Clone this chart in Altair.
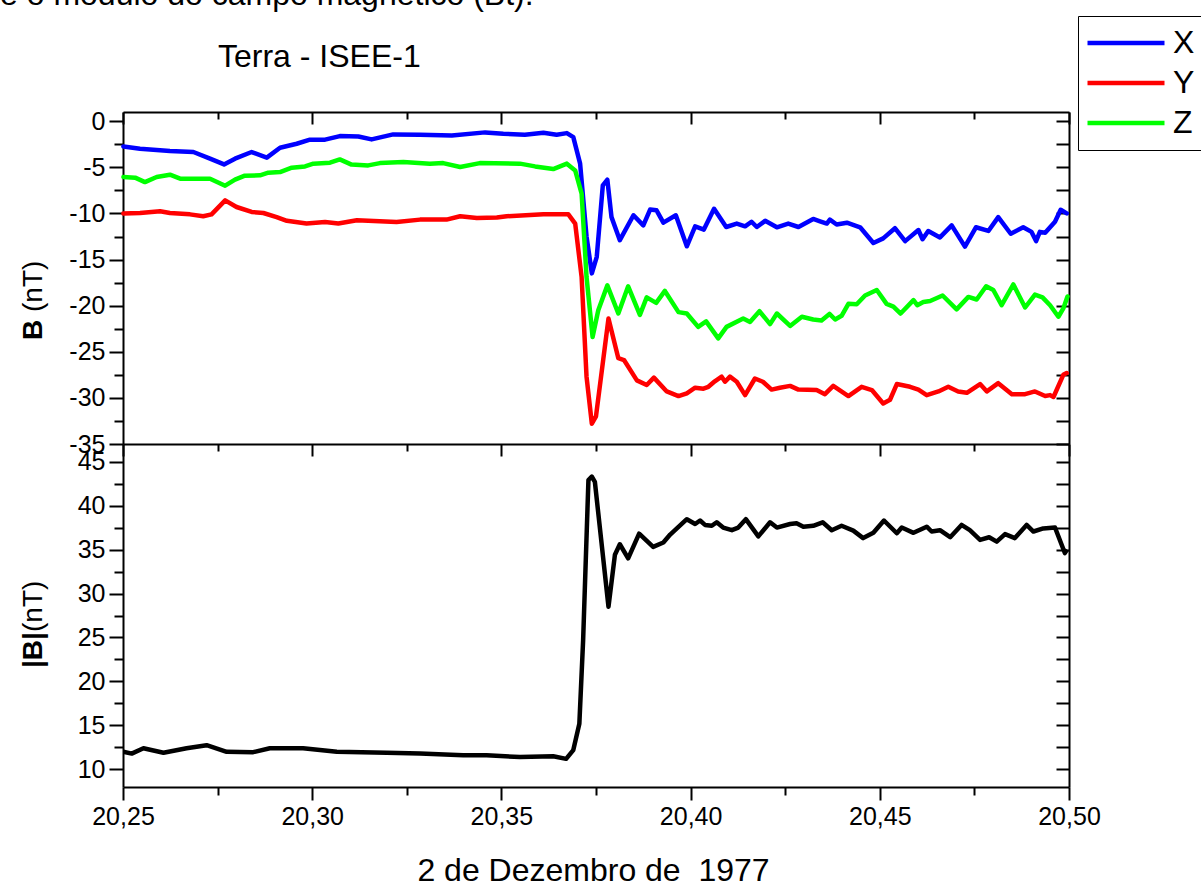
import altair as alt
import pandas as pd

# ---------------- data ----------------
# X component (blue)
X_t = [20.2501, 20.2545, 20.2624, 20.2686, 20.2730, 20.2767, 20.2796, 20.2840, 20.2880, 20.2915,
       20.2959, 20.2994, 20.3034, 20.3073, 20.3122, 20.3157, 20.3214, 20.3285, 20.3369, 20.3457,
       20.3505, 20.3562, 20.3611, 20.3646, 20.3673, 20.3690, 20.3708, 20.3725, 20.3739, 20.3752,
       20.3768, 20.3780, 20.3791, 20.3813, 20.3849, 20.3875, 20.3893, 20.3910, 20.3928, 20.3961,
       20.3990, 20.4012, 20.4035, 20.4062, 20.4094, 20.4122, 20.4144, 20.4161, 20.4175, 20.4197,
       20.4228, 20.4258, 20.4285, 20.4324, 20.4342, 20.4360, 20.4368, 20.4386, 20.4413, 20.4448,
       20.4483, 20.4509, 20.4540, 20.4567, 20.4602, 20.4613, 20.4628, 20.4659, 20.4690, 20.4725,
       20.4754, 20.4787, 20.4813, 20.4846, 20.4879, 20.4901, 20.4913, 20.4923, 20.4937, 20.4963,
       20.4978, 20.4994]
X_v = [-2.73, -2.98, -3.23, -3.34, -4.06, -4.68, -4.06, -3.34, -3.95, -2.87,
       -2.44, -2.0, -2.0, -1.61, -1.65, -1.97, -1.43, -1.46, -1.54, -1.21,
       -1.35, -1.46, -1.25, -1.46, -1.29, -1.72, -4.6, -12.5, -16.5, -14.7,
       -6.95, -6.34, -10.4, -12.9, -10.2, -11.3, -9.58, -9.66, -11.0, -10.2,
       -13.56, -11.4, -11.75, -9.5, -11.47, -11.1, -11.4, -10.9, -11.47, -10.8,
       -11.5, -11.1, -11.47, -10.6, -10.85, -11.1, -10.67, -11.2, -11.0, -11.5,
       -13.2, -12.7, -11.6, -13.0, -11.8, -12.8, -11.9, -12.6, -11.3, -13.6,
       -11.5, -11.9, -10.4, -12.2, -11.5, -12.0, -13.0, -12.0, -12.1, -10.9,
       -9.6, -10.0]

# Y component (red)
Y_t = [20.2501, 20.2545, 20.2598, 20.2624, 20.2677, 20.2712, 20.2734, 20.2770, 20.2800, 20.2840,
       20.2871, 20.2906, 20.2933, 20.2985, 20.3034, 20.3069, 20.3118, 20.3223, 20.3285, 20.3355,
       20.3391, 20.3435, 20.3488, 20.3514, 20.3611, 20.3677, 20.3695, 20.3712, 20.3725, 20.3739,
       20.3750, 20.3783, 20.3809, 20.3824, 20.3858, 20.3884, 20.3903, 20.3937, 20.3968, 20.3990,
       20.4012, 20.4034, 20.4047, 20.4064, 20.4082, 20.4091, 20.4104, 20.4122, 20.4144, 20.4170,
       20.4191, 20.4214, 20.4236, 20.4263, 20.4285, 20.4333, 20.4355, 20.4377, 20.4417, 20.4452,
       20.4479, 20.4509, 20.4527, 20.4545, 20.4580, 20.4602, 20.4624, 20.4655, 20.4681, 20.4707,
       20.4730, 20.4765, 20.4783, 20.4813, 20.4849, 20.4884, 20.4910, 20.4937, 20.4950, 20.4959,
       20.4985, 20.4994]
Y_v = [-10.0, -9.95, -9.77, -9.95, -10.1, -10.3, -10.1, -8.58, -9.3, -9.84,
       -9.95, -10.4, -10.8, -11.1, -10.93, -11.1, -10.74, -10.93, -10.67, -10.67,
       -10.3, -10.5, -10.45, -10.3, -10.1, -10.1, -11.1, -16.9, -27.7, -32.8,
       -32.0, -21.4, -25.7, -25.9, -28.1, -28.6, -27.8, -29.3, -29.8, -29.5,
       -28.9, -29.0, -28.8, -28.2, -27.7, -28.25, -27.7, -28.25, -29.7, -27.9,
       -28.25, -29.1, -28.9, -28.7, -29.1, -29.15, -29.6, -28.7, -29.8, -28.8,
       -29.15, -30.6, -30.2, -28.5, -28.8, -29.1, -29.7, -29.3, -28.8, -29.3,
       -29.45, -28.5, -29.3, -28.4, -29.6, -29.6, -29.3, -29.8, -29.7, -29.9,
       -27.5, -27.3]

# Z component (green)
Z_t = [20.2501, 20.2532, 20.2558, 20.2589, 20.2624, 20.2651, 20.2730, 20.2770, 20.2796, 20.2822,
       20.2862, 20.2884, 20.2915, 20.2946, 20.2981, 20.3003, 20.3047, 20.3073, 20.3104, 20.3148,
       20.3179, 20.3241, 20.3311, 20.3346, 20.3391, 20.3443, 20.3549, 20.3589, 20.3637, 20.3673,
       20.3695, 20.3712, 20.3725, 20.3741, 20.3756, 20.3780, 20.3809, 20.3835, 20.3866, 20.3884,
       20.3909, 20.3932, 20.3968, 20.3990, 20.4020, 20.4041, 20.4073, 20.4095, 20.4139, 20.4157,
       20.4182, 20.4210, 20.4228, 20.4263, 20.4294, 20.4324, 20.4346, 20.4367, 20.4382, 20.4399,
       20.4417, 20.4439, 20.4461, 20.4492, 20.4518, 20.4536, 20.4555, 20.4589, 20.4599, 20.4615,
       20.4633, 20.4666, 20.4703, 20.4734, 20.4756, 20.4781, 20.4800, 20.4822, 20.4853, 20.4884,
       20.4910, 20.4930, 20.4950, 20.4972, 20.4985, 20.4996]
Z_v = [-6.05, -6.12, -6.6, -6.05, -5.8, -6.23, -6.23, -6.99, -6.34, -5.9,
       -5.87, -5.58, -5.51, -5.04, -4.9, -4.6, -4.5, -4.14, -4.7, -4.79,
       -4.54, -4.43, -4.6, -4.54, -4.97, -4.54, -4.6, -4.9, -5.19, -4.6,
       -5.33, -7.85, -16.9, -23.4, -20.5, -17.8, -20.85, -17.9, -21.0, -19.1,
       -19.7, -18.4, -20.7, -20.85, -22.3, -21.7, -23.55, -22.3, -21.4, -21.76,
       -20.6, -22.0, -20.85, -22.2, -21.2, -21.5, -21.6, -20.9, -21.5, -21.1,
       -19.8, -19.84, -18.9, -18.3, -19.8, -20.1, -20.85, -19.4, -19.95, -19.6,
       -19.5, -18.9, -20.4, -19.05, -19.33, -17.9, -18.3, -19.95, -17.7, -20.2,
       -18.8, -19.1, -19.95, -21.2, -20.3, -19.0]

# |B| (black)
Bt_t = [20.2501, 20.2523, 20.2554, 20.2607, 20.2668, 20.2721, 20.2774, 20.2844, 20.2888, 20.2976,
        20.3065, 20.3197, 20.3285, 20.3399, 20.3461, 20.3549, 20.3637, 20.3671, 20.3690, 20.3706,
        20.3716, 20.3730, 20.3739, 20.3747, 20.3783, 20.3800, 20.3813, 20.3835, 20.3864, 20.3901,
        20.3928, 20.3946, 20.3990, 20.4012, 20.4025, 20.4038, 20.4056, 20.4069, 20.4086, 20.4109,
        20.4126, 20.4146, 20.4179, 20.4210, 20.4228, 20.4263, 20.4280, 20.4298, 20.4324, 20.4349,
        20.4373, 20.4399, 20.4430, 20.4456, 20.4483, 20.4511, 20.4545, 20.4558, 20.4589, 20.4624,
        20.4637, 20.4659, 20.4686, 20.4716, 20.4738, 20.4765, 20.4789, 20.4809, 20.4831, 20.4857,
        20.4888, 20.4906, 20.4932, 20.4963, 20.4989, 20.4995]
Bt_v = [12.0, 11.8, 12.4, 11.9, 12.4, 12.75, 12.0, 11.96, 12.4, 12.4,
        12.0, 11.9, 11.8, 11.6, 11.6, 11.4, 11.5, 11.2, 12.2, 15.2,
        24.7, 42.9, 43.3, 42.7, 28.5, 34.4, 35.6, 34.0, 36.8, 35.3,
        35.8, 36.7, 38.45, 37.9, 38.3, 37.8, 37.7, 38.1, 37.5, 37.2,
        37.5, 38.45, 36.5, 38.1, 37.5, 37.9, 38.0, 37.6, 37.7, 38.1,
        37.2, 37.7, 37.15, 36.3, 36.9, 38.3, 36.85, 37.5, 36.9, 37.6,
        37.05, 37.2, 36.4, 37.8, 37.2, 36.1, 36.4, 35.9, 36.75, 36.3,
        37.8, 37.05, 37.4, 37.5, 34.6, 35.0]

components = ["X", "Y", "Z"]
comp_colors = ["#0000FF", "#FF0000", "#00FF00"]

x_major = [20.25, 20.30, 20.35, 20.40, 20.45, 20.50]
x_minor = [20.275, 20.325, 20.375, 20.425, 20.475]
top_major = [-35, -30, -25, -20, -15, -10, -5, 0]
top_minor = [-32.5, -27.5, -22.5, -17.5, -12.5, -7.5, -2.5]
bot_major = [10, 15, 20, 25, 30, 35, 40, 45]
bot_minor = [12.5, 17.5, 22.5, 27.5, 32.5, 37.5, 42.5]

XDOM = [20.25, 20.50]
TOPDOM = [-35, 1]
BOTDOM = [8, 47]

# ---------------- tables ----------------
df_top = pd.concat([
    pd.DataFrame({"t": X_t, "B": X_v, "comp": "X"}),
    pd.DataFrame({"t": Y_t, "B": Y_v, "comp": "Y"}),
    pd.DataFrame({"t": Z_t, "B": Z_v, "comp": "Z"}),
], ignore_index=True)
df_bot = pd.DataFrame({"t": Bt_t, "Bt": Bt_v})
df_topframe = pd.DataFrame({"t": XDOM, "B": TOPDOM})
df_botframe = pd.DataFrame({"t": XDOM, "Bt": BOTDOM})
dummy = pd.DataFrame({"a": [0]})

# ---------------- geometry ----------------
W, H = 946, 675
HT = 332          # height of the upper panel
FONT = "Liberation Sans, Arial, Helvetica, sans-serif"

xscale = alt.Scale(domain=XDOM, nice=False, zero=False)
topscale = alt.Scale(domain=TOPDOM, range=[HT, 0], nice=False, zero=False)
botscale = alt.Scale(domain=BOTDOM, range=[H, HT], nice=False, zero=False)

common = dict(grid=False, domainColor="black", domainWidth=2, tickColor="black",
              tickWidth=2, labelColor="black", labelFont=FONT, labelOverlap=False,
              labelFlush=False, labelBound=False)


def x_axis(values, size, offset=0, labels=False, domain=True, **kw):
    return alt.Axis(orient="bottom", values=values, tickSize=size, offset=offset,
                    labels=labels, domain=domain, **common, **kw)


def y_axis(values, size, offset=0, labels=False, domain=True, **kw):
    return alt.Axis(orient="left", values=values, tickSize=size, offset=offset,
                    labels=labels, domain=domain, **common, **kw)


x_lab = x_axis(x_major, 13, labels=True,
               labelExpr="replace(format(datum.value, '.2f'), '.', ',')",
               labelFontSize=25, labelPadding=4,
               title="2 de Dezembro de\u00a0 1977", titleFont=FONT, titleFontSize=32,
               titleFontWeight="normal", titleColor="black", titleX=470, titleY=93,
               titleAlign="center", titleBaseline="alphabetic")

ylab_kw = dict(labelExpr="datum.value + ''", labelFontSize=25, labelPadding=4, title=None)

# main data layers
top_lines = alt.Chart(df_top).mark_line(strokeWidth=4.5, strokeJoin="round", strokeCap="round").encode(
    x=alt.X("t:Q", scale=xscale, axis=x_lab),
    y=alt.Y("B:Q", scale=topscale, axis=y_axis(top_major, 14, labels=True, **ylab_kw)),
    color=alt.Color("comp:N",
                    scale=alt.Scale(domain=components, range=comp_colors),
                    legend=alt.Legend(orient="none", legendX=955, legendY=-96, title=None,
                                      symbolType="stroke", symbolSize=5929,
                                      symbolStrokeWidth=4.5, clipHeight=40, rowPadding=0,
                                      labelFontSize=32, labelFont=FONT, labelColor="black",
                                      labelOffset=6, padding=7, strokeColor="black",
                                      fillColor="white")),
)

bot_line = alt.Chart(df_bot).mark_line(strokeWidth=4.5, color="black", strokeJoin="round").encode(
    x=alt.X("t:Q", scale=xscale, axis=x_axis(x_major, 12, offset=HT - H, title=None)),
    y=alt.Y("Bt:Q", scale=botscale, axis=y_axis(bot_major, 14, labels=True, **ylab_kw)),
)

# frame / minor tick layers (invisible marks, only carrying axes)
f1 = alt.Chart(df_topframe).mark_point(opacity=0).encode(
    x=alt.X("t:Q", scale=xscale, axis=x_axis(x_minor, 8, domain=False, title=None)),
    y=alt.Y("B:Q", scale=topscale, axis=y_axis(top_minor, 9, domain=False, title=None)),
)
f2 = alt.Chart(df_botframe).mark_point(opacity=0).encode(
    x=alt.X("t:Q", scale=xscale, axis=x_axis(x_minor, 7, offset=HT - H, domain=False, title=None)),
    y=alt.Y("Bt:Q", scale=botscale, axis=y_axis(bot_minor, 9, domain=False, title=None)),
)
f3 = alt.Chart(df_topframe).mark_point(opacity=0).encode(
    x=alt.X("t:Q", scale=xscale, axis=x_axis(x_major, 12, offset=-H, title=None)),
    y=alt.Y("B:Q", scale=topscale,
            axis=y_axis(sorted(top_major + top_minor), 13, offset=-W, title=None)),
)
f4 = alt.Chart(df_botframe).mark_point(opacity=0).encode(
    x=alt.X("t:Q", scale=xscale, axis=x_axis(x_minor, 7, offset=-H, domain=False, title=None)),
    y=alt.Y("Bt:Q", scale=botscale,
            axis=y_axis(sorted(bot_major + bot_minor), 13, offset=-W, title=None)),
)

# texts
def txt(s, x, y, size, weight="normal", angle=0, align="left"):
    return alt.Chart(dummy).mark_text(text=s, font=FONT, fontSize=size, fontWeight=weight,
                                      angle=angle, align=align, baseline="alphabetic",
                                      color="black").encode(x=alt.value(x), y=alt.value(y))

header = txt("e o módulo do campo magnético (Bt).", -123, -107, 32)
title = txt("Terra - ISEE-1", 95, -45, 32)
yt1a = txt("B", -81, 228, 28, weight="bold", angle=270)
yt1b = txt("(nT)", -81, 200, 28, angle=270)
yt2a = txt("|B|", -81, 556, 28, weight="bold", angle=270)
yt2b = txt("(nT)", -81, 520, 28, angle=270)

chart = alt.layer(
    f1, f2, f3, f4, bot_line, top_lines,
    header, title, yt1a, yt1b, yt2a, yt2b,
).resolve_scale(
    y="independent"
).resolve_axis(
    x="independent", y="independent"
).properties(
    width=W, height=H,
    autosize=alt.AutoSizeParams(type="none"),
    padding={"left": 123, "top": 112, "right": 132, "bottom": 97},
    background="white",
).configure_view(stroke=None)

chart.save("out.html", embed_options={"renderer": "svg", "actions": False})
